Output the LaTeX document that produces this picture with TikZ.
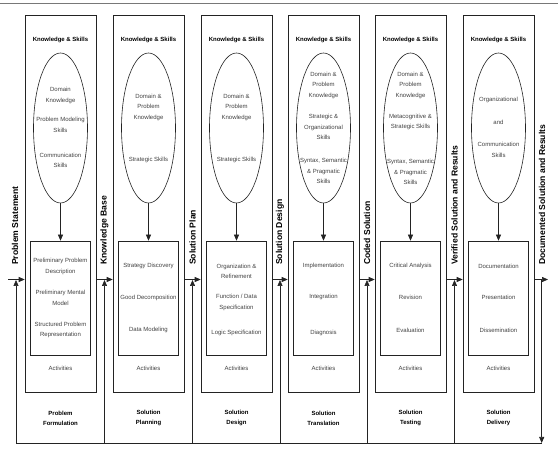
\documentclass[tikz,border=0pt]{standalone}
\usepackage{fontspec}
\setmainfont{Liberation Sans}
\usepackage{tikz}
\usetikzlibrary{arrows.meta, shapes.geometric, positioning, calc}
\definecolor{FrameGray}{RGB}{120,120,120}
\definecolor{LineBlack}{RGB}{35,35,35}
\definecolor{TextGray}{RGB}{65,65,65}

\begin{document}
\begin{tikzpicture}[x=1pt, y=-1pt, font=\fontsize{6}{10.5}\selectfont,
	stagebox/.style={draw=LineBlack, line width=0.6pt, minimum width=71pt, minimum height=377pt, inner sep=0pt},
	skillsell/.style={draw=LineBlack, line width=0.6pt, ellipse, minimum width=54pt, minimum height=150pt, inner sep=0pt},
	actbox/.style={draw=LineBlack, line width=0.6pt, minimum width=60pt, minimum height=114pt, inner sep=0pt},
	note/.style={text=TextGray, align=center, inner sep=0pt},
	heading/.style={font=\bfseries\fontsize{6}{10}\selectfont, align=center, inner sep=0pt},
	flowlabel/.style={font=\bfseries\fontsize{8.6}{10}\selectfont, rotate=90, anchor=west, inner sep=0pt},
	flow/.style={draw=LineBlack, line width=0.6pt, -{Triangle[length=6pt, width=5pt]}},
	backline/.style={draw=LineBlack, line width=0.6pt}]
	\useasboundingbox (0,0) rectangle (558,449);
	\draw[FrameGray, line width=0.9pt] (0,3) -- (558,3);
	% one column per phase
	\foreach \i/\x/\phase in {1/60.5/{Problem\\Formulation}, 2/148.5/{Solution\\Planning},
		3/236.5/{Solution\\Design}, 4/323.5/{Solution\\Translation},
		5/410.5/{Solution\\Testing}, 6/498.5/{Solution\\Delivery}}
		{\node[stagebox] (stage\i) at (\x,203.5) {};
		\node[heading] (ks\i) at (\x,40) {Knowledge \& Skills};
		\node[skillsell] (ell\i) at (\x,128) {};
		\node[actbox] (act\i) at (\x,298) {};
		\node[note] (actlbl\i) at (\x,368) {Activities};
		\node[heading] (phase\i) at (\x,418) {\phase};
		\draw[flow] (ell\i) -- (act\i);}
	% knowledge and skills
	\foreach \x/\y/\txt [count=\k] in {60.5/95.5/{Domain\\Knowledge}, 60.5/125/{Problem Modeling\\Skills},
		60.5/160.5/{Communication\\Skills},
		148.5/107/{Domain \&\\Problem\\Knowledge}, 148.5/160/{Strategic Skills},
		236.5/107/{Domain \&\\Problem\\Knowledge}, 236.5/160/{Strategic Skills},
		323.5/85/{Domain \&\\Problem\\Knowledge}, 323.5/127/{Strategic \&\\Organizational\\Skills},
		323.5/171/{Syntax, Semantic\\\& Pragmatic\\Skills},
		410.5/85/{Domain \&\\Problem\\Knowledge}, 410.5/122/{Metacognitive \&\\Strategic Skills},
		410.5/172/{Syntax, Semantic\\\& Pragmatic\\Skills},
		498.5/100/{Organizational}, 498.5/122/{and}, 498.5/150/{Communication\\Skills}}
		{\node[note] (kn\k) at (\x,\y) {\txt};}
	% activities
	\foreach \x/\y/\txt [count=\k] in {60.5/266.5/{Preliminary Problem\\Description},
		60.5/298/{Preliminary Mental\\Model}, 60.5/330/{Structured Problem\\Representation},
		148.5/266/{Strategy Discovery}, 148.5/298/{Good Decomposition}, 148.5/330/{Data Modeling},
		236.5/271.5/{Organization \&\\Refinement}, 236.5/302.5/{Function / Data\\Specification},
		236.5/333/{Logic Specification},
		323.5/266/{Implementation}, 323.5/297/{Integration}, 323.5/333/{Diagnosis},
		410.5/266/{Critical Analysis}, 410.5/297/{Revision}, 410.5/330/{Evaluation},
		498.5/266/{Documentation}, 498.5/297/{Presentation}, 498.5/330/{Dissemination}}
		{\node[note] (ac\k) at (\x,\y) {\txt};}
	% flows between phases
	\foreach \j/\x in {0/16, 1/104.5, 2/192.5, 3/280, 4/367, 5/454.5, 6/541.7}
		{\coordinate (jn\j) at (\x,279.5);
		\coordinate (fb\j) at (\x,443);}
	\foreach \j/\x/\lbl in {0/15/Problem Statement, 1/104.5/Knowledge Base, 2/192.5/Solution Plan,
		3/280/Solution Design, 4/367/Coded Solution, 5/454.5/Verified Solution and Results,
		6/542/Documented Solution and Results}
		{\node[flowlabel] (flow\j) at (\x,265) {\lbl};}
	\coordinate (src) at (8,279.5);
	\coordinate (sink) at (548,279.5);
	\draw[flow] (src) -- (stage1.west |- src);
	\foreach \i/\j in {1/2, 2/3, 3/4, 4/5, 5/6}
		{\draw[flow] (stage\i.east |- jn\i) -- (stage\j.west |- jn\i);}
	\draw[flow] (stage6.east |- sink) -- (sink);
	\draw[flow] (jn6) -- (fb6);
	\draw[backline] (fb0) -- (fb6);
	\foreach \j in {0,...,5}
		{\draw[flow, shorten >=0.5pt] (fb\j) -- (jn\j);}
\end{tikzpicture}
\end{document}
